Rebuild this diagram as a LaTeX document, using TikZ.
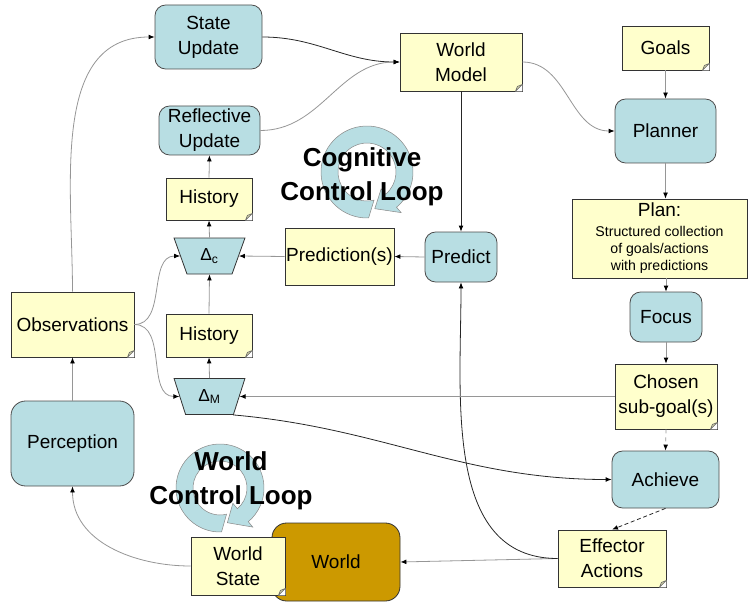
\documentclass[tikz,border=0pt]{standalone}
\usepackage{fontspec}
\setmainfont{Liberation Sans}
\usepackage{tikz}
\usetikzlibrary{arrows.meta, shapes.geometric}

\definecolor{boxblue}{RGB}{184,222,227}
\definecolor{noteyellow}{RGB}{255,255,204}
\definecolor{foldtan}{RGB}{205,205,164}
\definecolor{worldbrown}{RGB}{204,153,0}
\definecolor{linegray}{RGB}{150,150,150}

\newcommand{\boxfont}{\fontsize{14.25}{18.75}\selectfont}
\newcommand{\planfont}{\fontsize{10.6}{12.8}\selectfont}

\tikzset{
  procbox/.style={draw=black!70, fill=boxblue, rounded corners=8pt, line width=0.6pt, align=center, inner sep=0pt, font=\boxfont},
  notebox/.style={draw=black!80, fill=noteyellow, line width=0.6pt, align=center, inner sep=0pt, font=\boxfont},
  deltabox/.style={trapezium, shape border rotate=180, trapezium stretches=true, trapezium left angle=70, trapezium right angle=70, minimum width=53.25pt, minimum height=27pt, draw=black!80, fill=boxblue, line width=0.6pt, inner sep=0pt, font=\fontsize{13}{15}\selectfont},
  looptext/.style={align=center, font=\bfseries\fontsize{19.5}{25.5}\selectfont},
  loopring/.style={fill=boxblue, draw=black!45, line width=0.4pt},
  flow/.style={draw=linegray, line width=0.6pt, -{Latex[length=4.5pt,width=3.6pt,color=black]}},
  darkflow/.style={flow, draw=black!85},
}

% folded corner of a note
\newcommand{\dogear}[1]{%
  \fill[white] (#1.south east) -- ++(-7,0) -- ++(7,-7) -- cycle;
  \filldraw[fill=foldtan, draw=black!60, line width=0.4pt, line join=round] (#1.south east) ++(-7,0) -- ++(7,-7) -- ++(-5,2) -- cycle;}

% circular arrow: centre x, centre y, outer radius, inner radius
\newcommand{\cyclearrow}[4]{%
  \filldraw[loopring] ([shift={(#1,#2)}]88:#3) arc[start angle=88, end angle=410, radius=#3]
    -- ([shift={(#1,#2)}]410:#3+7) -- ([shift={(#1,#2)}]438:#3/2+#4/2)
    -- ([shift={(#1,#2)}]410:#4-7) -- ([shift={(#1,#2)}]410:#4)
    arc[start angle=410, end angle=76, radius=#4] -- cycle;}

\begin{document}
\begin{tikzpicture}[x=0.75pt,y=0.75pt,yscale=-1,xscale=1]
\useasboundingbox (0,0) rectangle (748,602);

% Loop arrows
\cyclearrow{367}{172}{46}{29}
\cyclearrow{220}{488}{44}{27}
\node[looptext] (cogloop) at (362,177) {Cognitive\\Control Loop};
\node[looptext] (worldloop) at (231,481) {World\\Control Loop};

% Left side
\node[procbox, minimum width=80.25pt, minimum height=48pt] (stateup) at (208.5,37) {State\\Update};
\node[procbox, minimum width=75.75pt, minimum height=36.75pt] (reflect) at (209.5,130.5) {Reflective\\Update};
\node[notebox, minimum width=64.5pt, minimum height=31.5pt] (histc) at (209,199) {History};
\node[deltabox] (dc) at (209.5,256) {Δ\textsubscript{c}};
\node[notebox, minimum width=64.5pt, minimum height=32.25pt] (histm) at (209,335.5) {History};
\node[deltabox] (dm) at (209.5,396.5) {Δ\textsubscript{M}};
\node[notebox, minimum width=92.25pt, minimum height=48.75pt] (obs) at (72.5,324.5) {Observations};
\node[procbox, rounded corners=11pt, minimum width=92.25pt, minimum height=63.75pt] (percep) at (72.5,443.5) {Perception};

% Middle
\node[notebox, minimum width=91.5pt, minimum height=43.5pt] (wmodel) at (461,62) {World\\Model};
\node[notebox, minimum width=81.75pt, minimum height=42.75pt] (predn) at (339.5,256.5) {Prediction(s)};
\node[procbox, minimum width=54pt, minimum height=37.5pt] (predict) at (461,257) {Predict};
\node[procbox, draw=black!80, fill=worldbrown, rounded corners=11pt, minimum width=96pt, minimum height=58.5pt] (world) at (336,562) {World};
\node[notebox, minimum width=70.5pt, minimum height=43.5pt] (wstate) at (238,566) {World\\State};

% Right side
\node[notebox, minimum width=65.25pt, minimum height=33pt] (goals) at (665.5,48) {Goals};
\node[procbox, minimum width=75.75pt, minimum height=48pt] (planner) at (665.5,131) {Planner};
\node[notebox, minimum width=131.25pt, minimum height=59.25pt] (plan) at (659.5,238.5) {Plan:\\[-3.75pt]\planfont Structured collection\\[-6pt]\planfont of goals/actions\\[-6pt]\planfont with predictions};
\node[procbox, minimum width=54pt, minimum height=37.5pt] (focus) at (666,317) {Focus};
\node[notebox, minimum width=76.5pt, minimum height=48.75pt] (chosen) at (666,396.5) {Chosen\\sub-goal(s)};
\node[procbox, minimum width=80.25pt, minimum height=42.75pt] (achieve) at (665.5,479.5) {Achieve};
\node[notebox, minimum width=81pt, minimum height=42.75pt] (effector) at (612,558.5) {Effector\\Actions};

\foreach \n in {histc,histm,obs,wmodel,wstate,goals,chosen,effector}
  {\dogear{\n}}

% Connectors (y axis is flipped: -90 points up, 90 points down)
\draw[flow] (obs.north) to[out=-90,in=180] (stateup.west);
\draw[darkflow] (stateup.east) to[out=0,in=180] (wmodel.west);
\draw[flow] (reflect.east) to[out=0,in=180] (wmodel.west);
\draw[flow] (wmodel.east) to[out=0,in=180] (planner.west);
\draw[flow] (goals.south) -- (planner.north);
\draw[flow] (planner.south) -- (planner.south |- plan.north);
\draw[flow] (focus.north |- plan.south) -- (focus.north);
\draw[flow] (focus.south) -- (chosen.north);
\draw[flow, dashed] (chosen.south) -- (achieve.north);
\draw[darkflow, densely dashed] (achieve.south) -- (effector.north);
\draw[flow] (effector.west) -- (world.east);
\draw[darkflow] (effector.west) to[out=180,in=90] (predict.south);
\draw[darkflow] (wmodel.south) -- (predict.north);
\draw[flow] (predict.west) -- (predn.east);
\draw[flow] (predn.west) -- (dc.0);
\draw[flow] (chosen.west) -- (dm.0);
\draw[darkflow] (dm.-38) to[out=5,in=180] (achieve.west);
\draw[flow] (obs.east) to[out=0,in=180] (dc.180);
\draw[flow] (obs.east) to[out=0,in=180] (dm.180);
\draw[flow] (dc.90) -- (histc.south);
\draw[flow] (histc.north) -- (reflect.south);
\draw[flow] (histm.north) -- (dc.-90);
\draw[flow] (dm.90) -- (histm.south);
\draw[flow] (percep.north) -- (obs.south);
\draw[flow] (wstate.west) to[out=180,in=90] (percep.south);

\end{tikzpicture}
\end{document}
